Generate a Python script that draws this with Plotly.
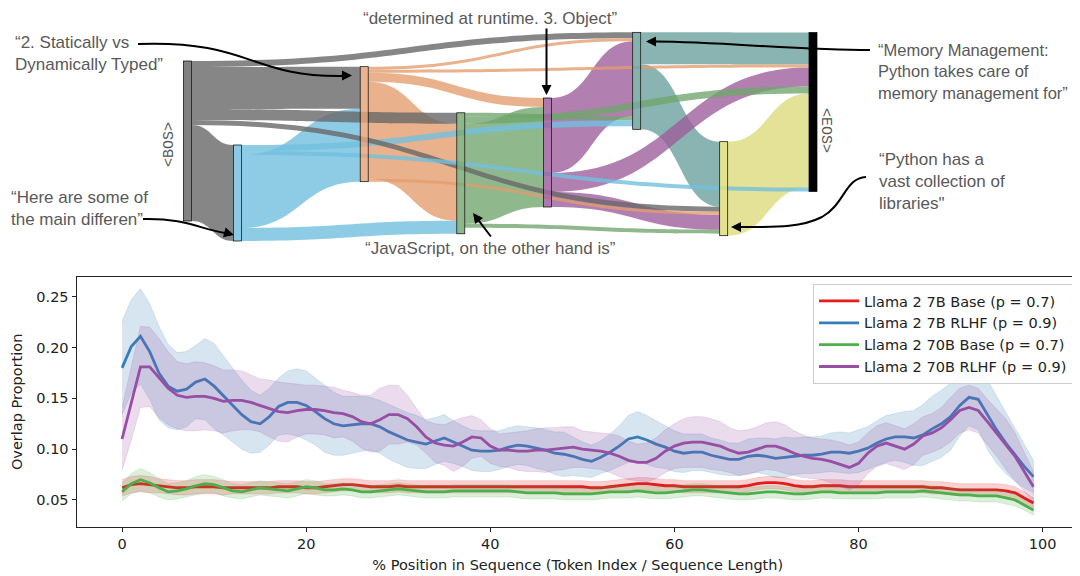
import plotly.graph_objects as go

# The page body has an 8 px margin, so the figure is drawn 8 px in from the
# window corner; all reference pixel positions below are window pixels.
OFF = 8
W, H = 1080 - OFF, 576 - OFF

# ---------------- Sankey data (token flow) ----------------
NODE_NAMES = [
    "<BOS>",
    "Here are some of the main differen",
    "2. Statically vs Dynamically Typed",
    "JavaScript, on the other hand is",
    "determined at runtime. 3. Object",
    "Memory Management: Python takes care of memory management for",
    "Python has a vast collection of libraries",
    "<EOS>",
]
LINK_SOURCE = [0, 0, 0, 0, 0,
               1, 1, 1, 1,
               2, 2, 2, 2, 2,
               3, 3, 3, 3,
               4, 4, 4,
               5, 5,
               6]
LINK_TARGET = [5, 2, 3, 6, 1,
               5, 7, 2, 3,
               5, 7, 4, 3, 6,
               5, 7, 4, 6,
               5, 7, 6,
               7, 6,
               7]
LINK_VALUE = [6, 42, 11, 5, 96,
              6, 4, 73, 13,
              3, 3, 9, 97, 3,
              4, 7, 100, 4,
              75, 19, 15,
              32, 65,
              94]

# ---------------- Line chart data ----------------
POSITION = list(range(100))
SERIES_NAMES = ["Llama 2 7B Base (p = 0.7)", "Llama 2 7B RLHF (p = 0.9)",
                "Llama 2 70B Base (p = 0.7)", "Llama 2 70B RLHF (p = 0.9)"]

BASE_7B = [0.062, 0.065, 0.066, 0.065, 0.064, 0.063, 0.062, 0.062, 0.063, 0.063,
           0.063, 0.062, 0.062, 0.062, 0.062, 0.062, 0.062, 0.063, 0.063, 0.063,
           0.062, 0.062, 0.063, 0.064, 0.065, 0.065, 0.064, 0.063, 0.063, 0.063,
           0.064, 0.063, 0.063, 0.063, 0.063, 0.063, 0.063, 0.063, 0.063, 0.063,
           0.063, 0.063, 0.063, 0.063, 0.063, 0.063, 0.063, 0.063, 0.063, 0.063,
           0.063, 0.062, 0.062, 0.063, 0.064, 0.065, 0.066, 0.066, 0.065, 0.064,
           0.064, 0.063, 0.063, 0.063, 0.063, 0.063, 0.063, 0.063, 0.064, 0.066,
           0.067, 0.067, 0.066, 0.064, 0.063, 0.063, 0.064, 0.064, 0.064, 0.063,
           0.063, 0.063, 0.063, 0.063, 0.063, 0.063, 0.063, 0.063, 0.062, 0.062,
           0.061, 0.060, 0.060, 0.060, 0.060, 0.060, 0.059, 0.057, 0.052, 0.047]
BASE_7B_CI = [0.008, 0.008, 0.008, 0.008, 0.007, 0.007, 0.007, 0.007, 0.007, 0.007,
              0.007, 0.007, 0.006, 0.006, 0.006, 0.006, 0.006, 0.006, 0.006, 0.006,
              0.006, 0.006, 0.006, 0.006, 0.006, 0.006, 0.006, 0.006, 0.006, 0.006,
              0.006, 0.006, 0.006, 0.006, 0.006, 0.006, 0.006, 0.006, 0.006, 0.006,
              0.006, 0.006, 0.006, 0.006, 0.006, 0.006, 0.006, 0.006, 0.006, 0.006,
              0.006, 0.006, 0.006, 0.006, 0.006, 0.006, 0.006, 0.006, 0.006, 0.006,
              0.006, 0.006, 0.006, 0.006, 0.006, 0.006, 0.006, 0.006, 0.006, 0.006,
              0.006, 0.006, 0.006, 0.006, 0.006, 0.006, 0.006, 0.006, 0.006, 0.006,
              0.006, 0.006, 0.006, 0.006, 0.006, 0.006, 0.006, 0.006, 0.006, 0.006,
              0.006, 0.006, 0.006, 0.006, 0.006, 0.006, 0.006, 0.006, 0.006, 0.005]

RLHF_7B = [0.180, 0.201, 0.211, 0.196, 0.175, 0.162, 0.157, 0.159, 0.166, 0.169,
           0.162, 0.153, 0.143, 0.134, 0.127, 0.125, 0.132, 0.142, 0.146, 0.146,
           0.143, 0.137, 0.130, 0.125, 0.123, 0.124, 0.125, 0.125, 0.122, 0.117,
           0.113, 0.109, 0.107, 0.105, 0.108, 0.111, 0.107, 0.103, 0.099, 0.098,
           0.098, 0.099, 0.102, 0.104, 0.103, 0.101, 0.099, 0.096, 0.095, 0.093,
           0.090, 0.088, 0.092, 0.097, 0.103, 0.110, 0.112, 0.109, 0.105, 0.102,
           0.098, 0.096, 0.097, 0.097, 0.094, 0.092, 0.090, 0.090, 0.093, 0.094,
           0.093, 0.091, 0.092, 0.093, 0.094, 0.094, 0.095, 0.097, 0.097, 0.096,
           0.098, 0.101, 0.106, 0.110, 0.112, 0.112, 0.111, 0.114, 0.120, 0.125,
           0.132, 0.143, 0.151, 0.149, 0.134, 0.119, 0.106, 0.094, 0.083, 0.073]
RLHF_7B_CI = [0.046, 0.046, 0.047, 0.047, 0.046, 0.041, 0.038, 0.037, 0.036, 0.040,
              0.042, 0.039, 0.036, 0.034, 0.031, 0.028, 0.028, 0.028, 0.031, 0.033,
              0.034, 0.033, 0.033, 0.031, 0.029, 0.028, 0.027, 0.026, 0.026, 0.027,
              0.027, 0.027, 0.026, 0.024, 0.023, 0.023, 0.021, 0.020, 0.020, 0.020,
              0.020, 0.019, 0.019, 0.019, 0.019, 0.020, 0.020, 0.021, 0.022, 0.019,
              0.017, 0.016, 0.016, 0.018, 0.020, 0.023, 0.025, 0.024, 0.023, 0.021,
              0.020, 0.019, 0.018, 0.018, 0.017, 0.017, 0.016, 0.016, 0.017, 0.017,
              0.018, 0.019, 0.020, 0.018, 0.018, 0.018, 0.018, 0.019, 0.020, 0.020,
              0.021, 0.021, 0.022, 0.023, 0.023, 0.025, 0.027, 0.030, 0.032, 0.033,
              0.033, 0.030, 0.028, 0.030, 0.034, 0.033, 0.030, 0.026, 0.021, 0.016]

BASE_70B = [0.058, 0.066, 0.070, 0.067, 0.062, 0.058, 0.059, 0.061, 0.064, 0.066,
            0.065, 0.062, 0.059, 0.058, 0.060, 0.062, 0.061, 0.060, 0.059, 0.061,
            0.063, 0.062, 0.060, 0.060, 0.061, 0.060, 0.058, 0.058, 0.059, 0.060,
            0.061, 0.060, 0.059, 0.058, 0.058, 0.058, 0.059, 0.059, 0.059, 0.059,
            0.059, 0.059, 0.059, 0.058, 0.057, 0.057, 0.057, 0.057, 0.056, 0.056,
            0.056, 0.056, 0.057, 0.058, 0.058, 0.058, 0.059, 0.058, 0.057, 0.057,
            0.058, 0.059, 0.060, 0.060, 0.059, 0.058, 0.057, 0.056, 0.056, 0.057,
            0.058, 0.058, 0.057, 0.056, 0.056, 0.057, 0.058, 0.058, 0.057, 0.057,
            0.057, 0.057, 0.057, 0.058, 0.058, 0.058, 0.058, 0.059, 0.058, 0.057,
            0.056, 0.055, 0.055, 0.054, 0.054, 0.054, 0.052, 0.050, 0.045, 0.040]
BASE_70B_CI = [0.009, 0.010, 0.011, 0.010, 0.009, 0.008, 0.008, 0.008, 0.009, 0.009,
               0.008, 0.008, 0.007, 0.007, 0.007, 0.007, 0.007, 0.007, 0.007, 0.007,
               0.007, 0.007, 0.006, 0.006, 0.006, 0.006, 0.006, 0.006, 0.006, 0.006,
               0.006, 0.006, 0.006, 0.006, 0.006, 0.006, 0.006, 0.006, 0.006, 0.006,
               0.006, 0.006, 0.006, 0.006, 0.006, 0.006, 0.006, 0.006, 0.006, 0.006,
               0.006, 0.006, 0.006, 0.006, 0.006, 0.006, 0.006, 0.006, 0.006, 0.006,
               0.006, 0.006, 0.006, 0.006, 0.006, 0.006, 0.006, 0.006, 0.006, 0.006,
               0.006, 0.006, 0.006, 0.006, 0.006, 0.006, 0.006, 0.006, 0.006, 0.006,
               0.006, 0.006, 0.006, 0.006, 0.006, 0.006, 0.006, 0.006, 0.006, 0.006,
               0.006, 0.006, 0.006, 0.006, 0.006, 0.006, 0.006, 0.006, 0.005, 0.005]

RLHF_70B = [0.110, 0.145, 0.181, 0.181, 0.170, 0.160, 0.153, 0.151, 0.152, 0.152,
            0.150, 0.147, 0.148, 0.148, 0.146, 0.143, 0.140, 0.137, 0.136, 0.138,
            0.139, 0.139, 0.138, 0.136, 0.135, 0.132, 0.127, 0.125, 0.129, 0.134,
            0.134, 0.130, 0.122, 0.112, 0.106, 0.104, 0.103, 0.107, 0.112, 0.111,
            0.103, 0.099, 0.099, 0.098, 0.098, 0.099, 0.099, 0.100, 0.101, 0.102,
            0.100, 0.099, 0.098, 0.096, 0.093, 0.089, 0.087, 0.087, 0.091, 0.098,
            0.103, 0.106, 0.107, 0.107, 0.105, 0.103, 0.099, 0.096, 0.097, 0.100,
            0.103, 0.103, 0.100, 0.096, 0.093, 0.091, 0.090, 0.088, 0.085, 0.082,
            0.086, 0.096, 0.103, 0.106, 0.103, 0.100, 0.105, 0.113, 0.116, 0.121,
            0.129, 0.138, 0.141, 0.138, 0.127, 0.116, 0.105, 0.093, 0.078, 0.063]
RLHF_70B_CI = [0.031, 0.036, 0.040, 0.039, 0.039, 0.036, 0.033, 0.033, 0.034, 0.033,
               0.032, 0.031, 0.030, 0.029, 0.027, 0.026, 0.028, 0.029, 0.029, 0.026,
               0.024, 0.024, 0.024, 0.025, 0.023, 0.024, 0.026, 0.028, 0.031, 0.029,
               0.029, 0.023, 0.018, 0.016, 0.019, 0.020, 0.025, 0.024, 0.021, 0.018,
               0.017, 0.016, 0.017, 0.019, 0.020, 0.021, 0.022, 0.021, 0.021, 0.020,
               0.018, 0.018, 0.018, 0.019, 0.020, 0.019, 0.018, 0.019, 0.020, 0.021,
               0.022, 0.024, 0.025, 0.025, 0.025, 0.024, 0.022, 0.022, 0.022, 0.022,
               0.023, 0.024, 0.024, 0.022, 0.021, 0.020, 0.020, 0.021, 0.022, 0.022,
               0.021, 0.020, 0.020, 0.020, 0.020, 0.020, 0.020, 0.019, 0.019, 0.020,
               0.022, 0.022, 0.022, 0.022, 0.022, 0.023, 0.025, 0.023, 0.019, 0.015]

X_TICKS = [0, 20, 40, 60, 80, 100]
Y_TICKS = [0.05, 0.10, 0.15, 0.20, 0.25]

# ---------------- styles / layout helpers ----------------
def fx(px):
    return (px - OFF) / W


def fy(py):
    return 1 - (py - OFF) / H


NODE_COLORS = ["rgba(118,118,118,0.92)", "rgba(125,196,227,0.9)", "rgba(230,162,118,0.82)",
               "rgba(122,172,116,0.85)", "rgba(160,98,160,0.85)", "rgba(116,166,164,0.88)",
               "rgba(224,222,128,0.88)", "rgba(0,0,0,1)"]
NODE_LINE = ["rgba(70,70,70,0.8)", "rgba(90,160,200,0.8)", "rgba(170,110,80,0.8)",
             "rgba(80,130,80,0.8)", "rgba(110,60,110,0.8)", "rgba(80,125,125,0.8)",
             "rgba(170,170,90,0.8)", "black"]
LINK_BASE = ["rgba(104,104,104,0.8)", "rgba(114,191,222,0.8)", "rgba(227,156,109,0.78)",
             "rgba(112,165,108,0.78)", "rgba(155,92,155,0.78)", "rgba(109,161,159,0.8)",
             "rgba(221,219,124,0.8)", "rgba(0,0,0,0.8)"]

# Sankey domain: 160 px tall so one value unit == one pixel
SK_TOP, SK_H = 32, 160
NODE_CX = [187.5, 237.5, 364.2, 460.8, 547.5, 636.7, 723.7, 813.0]
NODE_CY = [141.0, 193.0, 124.2, 173.3, 152.5, 80.8, 188.7, 112.0]
node_x = [(c - OFF) / W for c in NODE_CX]
node_y = [(c - SK_TOP) / SK_H for c in NODE_CY]

# draw big links first, thin ones on top
order = sorted(range(len(LINK_VALUE)), key=lambda i: -LINK_VALUE[i])

sankey = go.Sankey(
    arrangement="fixed",
    domain=dict(x=[0, 1], y=[fy(SK_TOP + SK_H), fy(SK_TOP)]),
    node=dict(label=NODE_NAMES, color=NODE_COLORS, x=node_x, y=node_y,
              thickness=8, pad=1, line=dict(color=NODE_LINE, width=0.7)),
    link=dict(source=[LINK_SOURCE[i] for i in order],
              target=[LINK_TARGET[i] for i in order],
              value=[LINK_VALUE[i] for i in order],
              color=[LINK_BASE[LINK_SOURCE[i]] for i in order],
              line=dict(width=0)),
    textfont=dict(color="rgba(0,0,0,0)", size=1),
    hoverinfo="none",
)

fig = go.Figure()
fig.add_trace(sankey)

# ---------------- line chart ----------------
LINE_COLORS = ["#e41a1c", "#377eb8", "#4daf4a", "#984ea3"]
BAND_COLORS = ["rgba(228,26,28,0.2)", "rgba(55,126,184,0.2)",
               "rgba(77,175,74,0.2)", "rgba(152,78,163,0.2)"]
MEANS = [BASE_7B, RLHF_7B, BASE_70B, RLHF_70B]
CIS = [BASE_7B_CI, RLHF_7B_CI, BASE_70B_CI, RLHF_70B_CI]

for k in range(4):
    m, c = MEANS[k], CIS[k]
    upper = [a + b for a, b in zip(m, c)]
    lower = [a - b for a, b in zip(m, c)]
    fig.add_trace(go.Scatter(
        x=POSITION + POSITION[::-1], y=upper + lower[::-1],
        fill="toself", fillcolor=BAND_COLORS[k], mode="lines",
        line=dict(width=0.8, color=BAND_COLORS[k]),
        showlegend=False, hoverinfo="skip", xaxis="x", yaxis="y"))
    fig.add_trace(go.Scatter(
        x=POSITION, y=m, mode="lines", name=SERIES_NAMES[k],
        line=dict(color=LINE_COLORS[k], width=2.8),
        legendgroup=str(k), xaxis="x", yaxis="y"))

FS = 14.5
fig.update_layout(
    width=W, height=H,
    margin=dict(l=0, r=0, t=0, b=0),
    paper_bgcolor="white", plot_bgcolor="white",
    font=dict(family="DejaVu Sans", size=FS, color="#222222"),
    xaxis=dict(domain=[fx(76.5), fx(1079)], range=[-4.95, 103.95],
               tickvals=X_TICKS, showgrid=False, zeroline=False,
               showline=True, mirror=True, linecolor="#222", linewidth=1,
               ticks="outside", ticklen=4, tickcolor="#222",
               tickfont=dict(size=FS),
               title=dict(text="% Position in Sequence (Token Index / Sequence Length)",
                          standoff=8, font=dict(size=FS)),
               anchor="y"),
    yaxis=dict(domain=[fy(527), fy(276.7)], range=[0.0234, 0.2697],
               tickvals=Y_TICKS, tickformat=".2f", showgrid=False, zeroline=False,
               showline=True, mirror=True, linecolor="#222", linewidth=1,
               ticks="outside", ticklen=4, tickcolor="#222",
               tickfont=dict(size=FS),
               title=dict(text="Overlap Proportion", standoff=10, font=dict(size=FS)),
               anchor="x"),
    legend=dict(x=fx(1073), xanchor="right", y=fy(284), yanchor="top",
                bgcolor="rgba(255,255,255,0.85)", bordercolor="#cccccc", borderwidth=1,
                font=dict(size=FS, family="DejaVu Sans", color="#222"),
                tracegroupgap=0, itemwidth=40),
)

# ---------------- Sankey annotations ----------------
TXT = "#595959"
TFONT = dict(family="Liberation Sans, Arial", size=17, color=TXT)
annos = [
    dict(x=fx(13), y=fy(53.5), text="“2. Statically vs<br>Dynamically Typed”",
         xanchor="left", yanchor="middle", align="left"),
    dict(x=fx(9), y=fy(208), text="“Here are some of<br>the main differen”",
         xanchor="left", yanchor="middle", align="left"),
    dict(x=fx(490), y=fy(18.5), text="“determined at runtime. 3. Object”",
         xanchor="center", yanchor="middle"),
    dict(x=fx(490), y=fy(248), text="“JavaScript, on the other hand is”",
         xanchor="center", yanchor="middle"),
    dict(x=fx(876), y=fy(71), text="“Memory Management:<br>Python takes care of<br>memory management for”",
         xanchor="left", yanchor="middle", align="left", font_size=16.5),
    dict(x=fx(877), y=fy(182), text="“Python has a<br>vast collection of<br>libraries\"",
         xanchor="left", yanchor="middle", align="left"),
]
for a in annos:
    fs = a.pop("font_size", 17)
    a.update(xref="paper", yref="paper", showarrow=False, font=dict(TFONT, size=fs))

MONO = dict(family="Liberation Mono, Courier New, monospace", size=15, color="#555555")
annos.append(dict(x=fx(170), y=fy(145), xref="paper", yref="paper", showarrow=False,
                  xanchor="center", yanchor="middle",
                  text="&lt;BOS&gt;", textangle=-90, font=MONO))
annos.append(dict(x=fx(826), y=fy(130), xref="paper", yref="paper", showarrow=False,
                  xanchor="center", yanchor="middle",
                  text="&lt;EOS&gt;", textangle=90, font=MONO))

# arrowheads (tip position, tail offset in px)
ARROWS = [
    ((352, 75.5), (-12, 0)),
    ((234, 235), (-11, -3)),
    ((546.5, 95), (0, -68)),
    ((473, 213), (19, 25)),
    ((646, 41.5), (12, 0)),
    ((731, 227), (12, 0)),
]
for (tx, ty), (ax, ay) in ARROWS:
    annos.append(dict(x=fx(tx), y=fy(ty), xref="paper", yref="paper", text="",
                      showarrow=True, ax=ax, ay=ay, arrowhead=2, arrowsize=1,
                      arrowwidth=2, arrowcolor="black", standoff=0, startstandoff=0))
fig.update_layout(annotations=annos)


def curve(pts):
    s = "M %.5f,%.5f" % (fx(pts[0][0]), fy(pts[0][1]))
    rest = pts[1:]
    for i in range(0, len(rest), 3):
        seg = rest[i:i + 3]
        s += " C " + " ".join("%.5f,%.5f" % (fx(p[0]), fy(p[1])) for p in seg)
    return s


CURVES = [
    [(138, 44), (250, 40), (250, 77), (342, 76)],
    [(143, 219), (185, 218), (200, 229), (225, 233)],
    [(870, 50), (800, 50), (720, 42), (656, 41.6)],
    [(866, 177), (845, 178), (845, 204), (822, 217), (800, 228), (775, 227), (741, 227)],
]
fig.update_layout(shapes=[dict(type="path", xref="paper", yref="paper", path=curve(c),
                               line=dict(color="black", width=2)) for c in CURVES])

fig.write_html("out.html")
